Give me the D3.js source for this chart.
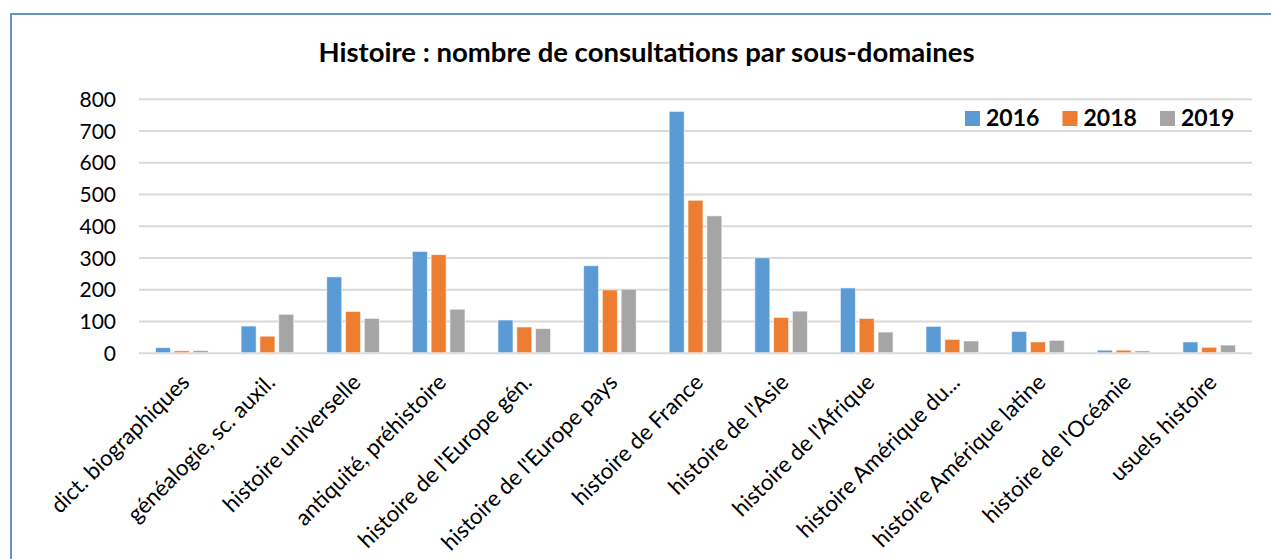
<!DOCTYPE html>
<html>
<head>
<meta charset="utf-8">
<script src="https://cdn.jsdelivr.net/npm/d3@7"></script>
<style>
    body { margin: 0; background: #fff; }
    #chart-area { width: 1271px; height: 559px; }
</style>
</head>
<body>
<div id="chart-area"></div>
<script>
// data
const categories = ["dict. biographiques", "généalogie, sc. auxil.", "histoire universelle", "antiquité, préhistoire",
    "histoire de l'Europe gén.", "histoire de l'Europe pays", "histoire de France", "histoire de l'Asie",
    "histoire de l'Afrique", "histoire Amérique du...", "histoire Amérique latine", "histoire de l'Océanie", "usuels histoire"]
const years = ["2016", "2018", "2019"]
const values2016 = [16, 84, 239, 319, 103, 274, 760, 299, 204, 83, 67, 8, 34]
const values2018 = [6, 52, 130, 309, 81, 198, 480, 111, 108, 42, 34, 8, 17]
const values2019 = [7, 121, 108, 137, 76, 200, 431, 131, 65, 37, 39, 6, 24]
const yTicks = [0, 100, 200, 300, 400, 500, 600, 700, 800]
const chartTitle = "Histoire : nombre de consultations par sous-domaines"

class GroupedBars {
    constructor(parentElement) {
        this.parentElement = parentElement
        this.displayData = []
        this.initVis()
    }

    initVis() {
        let vis = this

        vis.margin = {top: 98.7, left: 139, right: 19, bottom: 206.3}
        vis.totalW = 1271
        vis.totalH = 559
        vis.width = vis.totalW - vis.margin.left - vis.margin.right
        vis.height = vis.totalH - vis.margin.top - vis.margin.bottom

        vis.root = d3.select("#" + vis.parentElement).append("svg")
            .attr("width", vis.totalW)
            .attr("height", vis.totalH)
            .style("font-family", "Lato, 'Open Sans', sans-serif")

        // outer frame
        vis.root.append("rect")
            .attr("x", 11)
            .attr("y", 14)
            .attr("width", 1300)
            .attr("height", 600)
            .attr("fill", "none")
            .attr("stroke", "#2E75B6")
            .attr("stroke-width", 1.5)

        vis.root.append("text")
            .attr("x", 646.5)
            .attr("y", 62)
            .attr("text-anchor", "middle")
            .attr("font-weight", "bold")
            .attr("font-size", 27.5)
            .attr("fill", "#000")
            .text(chartTitle)

        vis.svg = vis.root.append("g")
            .attr("transform", `translate(${vis.margin.left}, ${vis.margin.top})`)

        vis.x0 = d3.scaleBand().range([0, vis.width]).paddingInner(0.385).paddingOuter(0.1925)
        vis.x1 = d3.scaleBand().paddingInner(0.2).paddingOuter(0)
        vis.y = d3.scaleLinear().range([vis.height, 0])

        vis.colorScale = d3.scaleOrdinal()
            .domain(years)
            .range(["#5B9BD5", "#ED7D31", "#A5A5A5"])

        vis.svg.append("g").attr("class", "grid")
        vis.svg.append("g").attr("class", "y-axis axis")
        vis.svg.append("g").attr("class", "x-axis axis")
            .attr("transform", "translate(0," + vis.height + ")")

        vis.legend = vis.root.append("g")
            .attr("class", "legend")
            .selectAll("g")
            .data(years)
            .enter().append("g")
            .attr("transform", (d, i) => `translate(${965 + i * 97.5}, 111)`)

        this.wrangleData()
    }

    wrangleData() {
        let vis = this
        let series = [values2016, values2018, values2019]
        vis.displayData = categories.map((c, i) => {
            return {
                category: c,
                bars: years.map((yr, j) => ({year: yr, value: series[j][i]}))
            }
        })
        this.updateVis()
    }

    updateVis() {
        let vis = this

        vis.x0.domain(categories)
        vis.x1.domain(years).range([0, vis.x0.bandwidth()])
        vis.y.domain([0, 800])

        // gridlines
        vis.svg.select(".grid")
            .call(d3.axisLeft(vis.y).tickValues(yTicks).tickSize(-vis.width).tickFormat(""))
            .call(g => g.select(".domain").remove())
            .call(g => g.selectAll("line").attr("stroke", "#D9D9D9").attr("stroke-width", 2))

        vis.svg.select(".y-axis")
            .call(d3.axisLeft(vis.y).tickValues(yTicks).tickSize(0).tickPadding(23))
            .call(g => g.select(".domain").remove())
            .call(g => g.selectAll("text")
                .attr("font-family", "Lato, sans-serif")
                .attr("font-size", 21)
                .attr("fill", "#000")
                .attr("dy", "0.36em"))

        vis.svg.select(".x-axis")
            .call(d3.axisBottom(vis.x0).tickSize(0).tickPadding(0))
            .call(g => g.select(".domain").remove())
            .call(g => g.selectAll("text")
                .attr("font-family", "Lato, sans-serif")
                .attr("font-size", 22.3)
                .attr("fill", "#000")
                .attr("text-anchor", "end")
                .attr("dy", 0)
                .attr("transform", "translate(9, 31) rotate(-45)"))

        // bars
        let groups = vis.svg.selectAll(".cat")
            .data(vis.displayData)
            .enter().append("g")
            .attr("class", "cat")
            .attr("transform", d => `translate(${vis.x0(d.category)}, 0)`)

        groups.selectAll("rect")
            .data(d => d.bars)
            .enter().append("rect")
            .attr("x", d => vis.x1(d.year))
            .attr("y", d => vis.y(d.value))
            .attr("width", vis.x1.bandwidth())
            .attr("height", d => vis.height - vis.y(d.value))
            .attr("fill", d => vis.colorScale(d.year))
            .attr("stroke", "#fff")
            .attr("stroke-opacity", 0.6)
            .attr("stroke-width", 1)

        // legend
        vis.legend.append("rect")
            .attr("width", 15)
            .attr("height", 15)
            .attr("fill", d => vis.colorScale(d))

        vis.legend.append("text")
            .attr("x", 21)
            .attr("y", 15)
            .attr("font-size", 23)
            .attr("font-weight", "bold")
            .attr("fill", "#000")
            .text(d => d)
    }
}

new GroupedBars("chart-area")
</script>
</body>
</html>
